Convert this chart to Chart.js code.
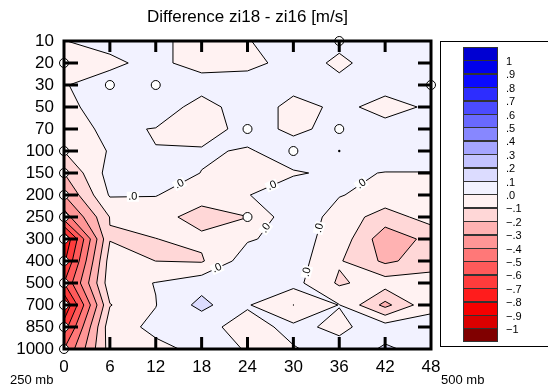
<!DOCTYPE html>
<html>
<head>
<meta charset="utf-8">
<script src="https://cdn.jsdelivr.net/npm/chart.js@4"></script>
<style>
  html, body { margin: 0; padding: 0; background: #fff; }
  canvas { display: block; }
</style>
</head>
<body>
<canvas id="c" width="548" height="385"></canvas>
<script>
// Forecast hour (x) and pressure level (y, plotted top to bottom)
const hours = [0, 6, 12, 18, 24, 30, 36, 42, 48];
const levels = ['10', '20', '30', '50', '70', '100', '150', '200', '250', '300', '400', '500', '700', '850', '1000'];

// Wind difference zi18 - zi16 [m/s], one row per level, one value per hour
const p10   = [-0.002, 0.03, 0.03, -0.05, -0.005, 0.05, 0.025, 0.04, 0.04];
const p20   = [-0.04, -0.02, 0.03, -0.05, -0.04, 0.05, -0.02, 0.05, 0.04];
const p30   = [-0.005, 0.04, 0.06, 0.061, 0.071, 0.04, 0.025, 0.03, 0.05];
const p50   = [-0.02, 0.037, 0.09, -0.06, 0.08, -0.04, 0.023, -0.03, 0.013];
const p70   = [-0.04, 0.02, -0.005, -0.04, 0.03, -0.015, 0.022, 0.03, 0.04];
const p100  = [-0.098, 0.008, 0.002, 0.009, -0.0066, 0.032, 0.05, 0.04, 0.04];
const p150  = [-0.2, 0.04, 0.04, -0.0015, -0.03, -0.005, 0.01, -0.002, -0.002];
const p200  = [-0.3, 0.01, 0.005, -0.07, -0.002, 0.03, 0.005, -0.035, -0.03];
const p250  = [-0.45, -0.097, -0.072, -0.13, -0.102, 0.075, -0.044, -0.145, -0.06];
const p300  = [-0.8, -0.105, -0.101, -0.083, -0.01, 0.035, -0.036, -0.265, -0.17];
const p400  = [-0.72, -0.055, -0.1005, -0.11, 0.054, 0.05, -0.09, -0.22, -0.15];
const p500  = [-0.6, -0.04, 0.003, 0.06, 0.05, 0.034, -0.115, -0.05, -0.05];
const p700  = [-0.8, -0.105, -0.0025, 0.13, 0.008, -0.101, 0.003, -0.23, -0.02];
const p850  = [-0.65, -0.04, 0.02, 0.024, -0.03, 0.022, -0.02, 0.05, 0.03];
const p1000 = [-0.5, -0.06, -0.02, 0.02, -0.003, -0.005, 0.03, 0.115, 0.06];
const grid = [p10, p20, p30, p50, p70, p100, p150, p200, p250, p300, p400, p500, p700, p850, p1000];

// Contour levels and the shading of the 22 bands (lowest band first)
const contourLevels = [-1, -0.9, -0.8, -0.7, -0.6, -0.5, -0.4, -0.3, -0.2, -0.1, 0,
                       0.1, 0.2, 0.3, 0.4, 0.5, 0.6, 0.7, 0.8, 0.9, 1];
const bandColors = [
  'rgb(128,0,0)', 'rgb(218,0,0)', 'rgb(245,0,0)', 'rgb(255,28,28)', 'rgb(255,60,60)',
  'rgb(255,90,90)', 'rgb(255,120,120)', 'rgb(255,150,150)', 'rgb(255,178,178)', 'rgb(255,215,215)',
  'rgb(255,242,242)', 'rgb(242,242,255)', 'rgb(220,220,255)', 'rgb(195,195,255)', 'rgb(165,165,255)',
  'rgb(135,135,255)', 'rgb(105,105,255)', 'rgb(75,75,255)', 'rgb(45,45,255)', 'rgb(10,10,255)',
  'rgb(0,0,235)', 'rgb(0,0,210)'
];
const legendLabels = ['1', '.9', '.8', '.7', '.6', '.5', '.4', '.3', '.2', '.1', '.0',
                      '\u2212.1', '\u2212.2', '\u2212.3', '\u2212.4', '\u2212.5', '\u2212.6', '\u2212.7', '\u2212.8', '\u2212.9', '\u22121'];

// Marked grid points (hour, level)
const markHours  = [0, 6, 12, 36, 48, 24, 36, 30, 24, 0, 0, 0, 0, 0, 0, 0, 0, 0, 0];
const markLevels = ['20', '30', '30', '10', '30', '70', '70', '100', '250',
                    '100', '150', '200', '250', '300', '400', '500', '700', '850', '1000'];
const dotHours  = [36];
const dotLevels = ['100'];

const FONT = "'Liberation Sans', Arial, Helvetica, sans-serif";

// Marching-squares piece of one cell: region >= t plus the contour segments
function cellPiece(i, j, t, px, py) {
  const c = [[i, j], [i + 1, j], [i + 1, j + 1], [i, j + 1]];
  const val = c.map(([a, b]) => grid[b][a]);
  const pt = c.map(([a, b]) => [px[a], py[b]]);
  const verts = [];
  for (let k = 0; k < 4; k++) {
    const n = (k + 1) % 4;
    const inK = val[k] >= t, inN = val[n] >= t;
    if (inK) verts.push({ p: pt[k], x: false });
    if (inK !== inN) {
      const f = (t - val[k]) / (val[n] - val[k]);
      verts.push({ p: [pt[k][0] + f * (pt[n][0] - pt[k][0]), pt[k][1] + f * (pt[n][1] - pt[k][1])], x: true });
    }
  }
  const segs = [];
  for (let k = 0; k < verts.length; k++) {
    const a = verts[k], b = verts[(k + 1) % verts.length];
    if (a.x && b.x && verts.length > 2) segs.push([a.p, b.p]);
  }
  return { poly: verts.map(v => v.p), segs };
}

const contourPlugin = {
  id: 'contourField',
  beforeDatasetsDraw(chart) {
    const { ctx, chartArea: a, scales: { x, y } } = chart;
    const px = hours.map(h => x.getPixelForValue(h));
    const py = levels.map((_, j) => y.getPixelForValue(j));
    ctx.save();
    ctx.beginPath();
    ctx.rect(a.left, a.top, a.width, a.height);
    ctx.clip();
    ctx.fillStyle = bandColors[0];
    ctx.fillRect(a.left, a.top, a.width, a.height);
    const allSegs = [];
    contourLevels.forEach((t, k) => {
      ctx.beginPath();
      const segs = [];
      for (let j = 0; j < levels.length - 1; j++) {
        for (let i = 0; i < hours.length - 1; i++) {
          const piece = cellPiece(i, j, t, px, py);
          if (piece.poly.length >= 3) {
            ctx.moveTo(piece.poly[0][0], piece.poly[0][1]);
            for (let m = 1; m < piece.poly.length; m++) ctx.lineTo(piece.poly[m][0], piece.poly[m][1]);
            ctx.closePath();
          }
          segs.push(...piece.segs);
        }
      }
      ctx.fillStyle = bandColors[k + 1];
      ctx.fill();
      allSegs.push({ t, segs });
    });
    // contour lines
    ctx.strokeStyle = '#000';
    ctx.lineWidth = 1;
    ctx.beginPath();
    allSegs.forEach(({ segs }) => segs.forEach(([p, q]) => { ctx.moveTo(p[0], p[1]); ctx.lineTo(q[0], q[1]); }));
    ctx.stroke();
    // labels on the zero line, through the middle layers
    const yLo = y.getPixelForValue(6), yHi = y.getPixelForValue(10.5);
    const zero = allSegs.find(s => s.t === 0).segs
      .map(([p, q]) => ({ p, q, len: Math.hypot(q[0] - p[0], q[1] - p[1]),
                          mx: (p[0] + q[0]) / 2, my: (p[1] + q[1]) / 2 }))
      .filter(s => s.len >= 10 && s.my >= yLo && s.my <= yHi)
      .sort((m, n) => n.len - m.len);
    const picked = [];
    for (const s of zero) {
      if (picked.every(o => Math.hypot(o.x - s.mx, o.y - s.my) > 40)) {
        let ang = Math.atan2(s.q[1] - s.p[1], s.q[0] - s.p[0]);
        if (ang > Math.PI / 2) ang -= Math.PI;
        if (ang < -Math.PI / 2) ang += Math.PI;
        picked.push({ x: s.mx, y: s.my, ang });
      }
      if (picked.length >= 8) break;
    }
    ctx.font = '11px ' + FONT;
    ctx.textAlign = 'center';
    ctx.textBaseline = 'middle';
    picked.forEach(l => {
      ctx.save();
      ctx.translate(l.x, l.y);
      ctx.rotate(l.ang);
      ctx.fillStyle = '#fff';
      ctx.fillRect(-6, -5, 12, 10);
      ctx.fillStyle = '#000';
      ctx.fillText('.0', 0, 0);
      ctx.restore();
    });
    ctx.restore();
  },
  afterDatasetsDraw(chart) {
    const { ctx, chartArea: a, scales: { x, y } } = chart;
    ctx.save();
    ctx.strokeStyle = '#000';
    ctx.lineWidth = 3;
    ctx.lineCap = 'butt';
    ctx.beginPath();
    for (let j = 1; j < levels.length - 1; j++) {
      const yy = y.getPixelForValue(j);
      ctx.moveTo(a.left, yy); ctx.lineTo(a.left + 14, yy);
      ctx.moveTo(a.right, yy); ctx.lineTo(a.right - 13, yy);
    }
    for (let i = 1; i < hours.length - 1; i++) {
      const xx = x.getPixelForValue(hours[i]);
      ctx.moveTo(xx, a.top); ctx.lineTo(xx, a.top + 11);
      ctx.moveTo(xx, a.bottom); ctx.lineTo(xx, a.bottom - 12);
    }
    ctx.stroke();
    ctx.strokeRect(a.left, a.top, a.width, a.height);
    ctx.restore();
  },
  afterDraw(chart) {
    const { ctx } = chart;
    ctx.save();
    // colour key
    ctx.strokeStyle = '#000';
    ctx.lineWidth = 1;
    ctx.strokeRect(440.5, 41.5, 130, 305);
    const top = 47, h = 13.4, bx = 463, bw = 35;
    for (let k = 0; k < bandColors.length; k++) {
      ctx.fillStyle = bandColors[bandColors.length - 1 - k];
      ctx.fillRect(bx, top + k * h, bw, h);
    }
    ctx.strokeStyle = '#333';
    for (let k = 0; k < bandColors.length; k++) {
      ctx.strokeRect(bx + 0.5, Math.round(top + k * h) + 0.5, bw - 1, Math.round(h));
    }
    ctx.fillStyle = '#000';
    ctx.font = '11px ' + FONT;
    ctx.textAlign = 'left';
    ctx.textBaseline = 'middle';
    legendLabels.forEach((s, k) => ctx.fillText(s, 506, top + (k + 1) * h + 1.5));
    // level notes under the axis
    ctx.font = '13px ' + FONT;
    ctx.fillText('250 mb', 10, 380);
    ctx.fillText('500 mb', 441, 380);
    ctx.restore();
  }
};

const marks = markHours.map((hr, k) => ({ x: hr, y: levels.indexOf(markLevels[k]) }));
const dots = dotHours.map((hr, k) => ({ x: hr, y: levels.indexOf(dotLevels[k]) }));

new Chart(document.getElementById('c'), {
  type: 'scatter',
  data: {
    datasets: [
      { data: marks, pointStyle: 'circle', pointRadius: 4.5, pointBackgroundColor: '#fff',
        pointBorderColor: '#000', pointBorderWidth: 1, clip: false },
      { data: dots, pointStyle: 'circle', pointRadius: 1.2, pointBackgroundColor: '#000',
        pointBorderWidth: 0, clip: false }
    ]
  },
  options: {
    responsive: false,
    animation: false,
    devicePixelRatio: 1,
    layout: { padding: { left: 0, right: 117, top: 0, bottom: 0 } },
    plugins: {
      legend: { display: false },
      tooltip: { enabled: false },
      title: {
        display: true, text: 'Difference zi18 - zi16 [m/s]', fullSize: false, color: '#000',
        font: { family: FONT, size: 17, weight: 'normal' }, padding: { top: 7, bottom: 13.6 }
      }
    },
    scales: {
      x: {
        type: 'linear', min: 0, max: 48,
        border: { display: false },
        grid: { display: false, drawTicks: false },
        ticks: { color: '#000', font: { family: FONT, size: 17 }, padding: 8, maxRotation: 0, autoSkip: false },
        afterBuildTicks(s) { s.ticks = hours.map(v => ({ value: v })); },
        afterFit(s) { s.height = 36; }
      },
      y: {
        type: 'linear', reverse: true, min: 0, max: 14,
        border: { display: false },
        grid: { display: false, drawTicks: false },
        ticks: { color: '#000', font: { family: FONT, size: 17 }, padding: 10, autoSkip: false,
                 callback: v => levels[v] },
        afterBuildTicks(s) { s.ticks = levels.map((_, i) => ({ value: i })); },
        afterFit(s) { s.width = 64; }
      }
    }
  },
  plugins: [contourPlugin]
});
</script>
</body>
</html>
